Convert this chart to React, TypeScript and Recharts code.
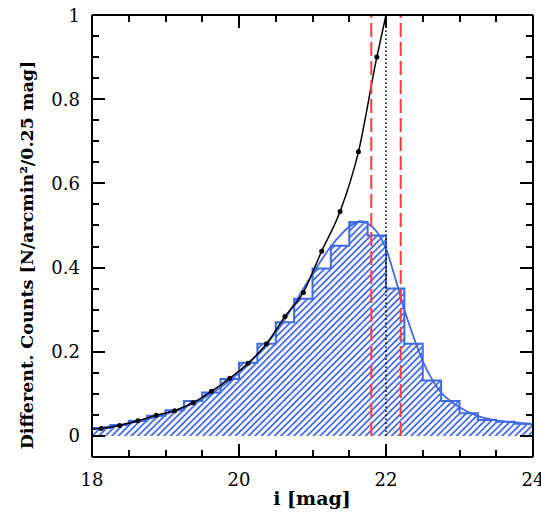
import { ComposedChart, Area, Line, XAxis, YAxis, ReferenceLine } from 'recharts';

// histogram: differential counts per 0.25 mag bin (bin left edges)
const binLeft = [18, 18.25, 18.5, 18.75, 19, 19.25, 19.5, 19.75, 20, 20.25, 20.5, 20.75,
  21, 21.25, 21.5, 21.75, 22, 22.25, 22.5, 22.75, 23, 23.25, 23.5, 23.75];
const binCounts = [0.019, 0.026, 0.036, 0.048, 0.061, 0.083, 0.103, 0.135, 0.174, 0.219, 0.27, 0.326,
  0.398, 0.452, 0.508, 0.476, 0.35, 0.219, 0.132, 0.083, 0.054, 0.038, 0.034, 0.029];
const histEnd = 24;

// smooth curve through the observed counts
const obsMag = [18, 18.5, 19, 19.5, 20, 20.5, 21, 21.25, 21.5, 21.65, 21.75, 21.875, 22, 22.125,
  22.25, 22.375, 22.5, 22.625, 22.75, 22.875, 23, 23.25, 23.5, 23.75, 24];
const obsCurve = [0.017, 0.03, 0.052, 0.088, 0.15, 0.245, 0.385, 0.45, 0.497, 0.51, 0.505, 0.485, 0.445, 0.375,
  0.3, 0.235, 0.178, 0.135, 0.103, 0.083, 0.068, 0.047, 0.037, 0.032, 0.028];

// power-law extrapolation (dots at bin centres, ends without dots)
const fitMag = [18, 18.125, 18.375, 18.625, 18.875, 19.125, 19.375, 19.625, 19.875, 20.125, 20.375,
  20.625, 20.875, 21.125, 21.375, 21.625, 21.875, 22];
const fitCounts = [0.016, 0.018, 0.025, 0.036, 0.049, 0.06, 0.079, 0.106, 0.137, 0.173, 0.219,
  0.284, 0.341, 0.439, 0.533, 0.675, 0.9, 1.0];

const limitLines = [21.8, 22.2];
const centreLine = 22;

const X_DOMAIN = [18, 24];
const Y_DOMAIN = [-0.05, 1];
const xTicks = [18, 18.5, 19, 19.5, 20, 20.5, 21, 21.5, 22, 22.5, 23, 23.5, 24];
const yTicks = [0, 0.05, 0.1, 0.15, 0.2, 0.25, 0.3, 0.35, 0.4, 0.45, 0.5, 0.55, 0.6, 0.65, 0.7, 0.75,
  0.8, 0.85, 0.9, 0.95, 1];

const histData = [...binLeft.map((x, i) => ({ x, y: binCounts[i] })), { x: histEnd, y: binCounts[binCounts.length - 1] }];
const curveData = obsMag.map((x, i) => ({ x, y: obsCurve[i] }));
const fitData = fitMag.map((x, i) => ({ x, y: fitCounts[i] }));

const FONT = '"DejaVu Serif", serif';
const BLUE = '#4169e1';
const RED = '#ff3b3b';

const W = 541;
const H = 513;
const MARGIN = { top: 14, right: 7, bottom: 0, left: 0 };
const Y_AXIS_W = 92;
const X_AXIS_H = 56;
const PLOT_L = MARGIN.left + Y_AXIS_W;
const PLOT_T = MARGIN.top + 1;
const PLOT_W = W - MARGIN.left - MARGIN.right - Y_AXIS_W - 1;
const PLOT_H = H - MARGIN.top - MARGIN.bottom - X_AXIS_H - 1;

const isMajorX = (v: number) => Math.abs(v / 2 - Math.round(v / 2)) < 1e-6;
const isMajorY = (v: number) => Math.abs(v / 0.2 - Math.round(v / 0.2)) < 1e-6;

function BottomLabel(props: any) {
  const v = props.payload.value;
  if (!isMajorX(v)) return <g />;
  return (
    <text x={Number(props.x)} y={Number(props.y) + 29} textAnchor="middle" fontFamily={FONT} fontSize={18} fill="#000">
      {v}
    </text>
  );
}

function LeftLabel(props: any) {
  const v = props.payload.value;
  if (!isMajorY(v)) return <g />;
  return (
    <text x={Number(props.x) - 12} y={Number(props.y) + 6.5} textAnchor="end" fontFamily={FONT} fontSize={18} fill="#000">
      {v}
    </text>
  );
}

// inward ticks on all four sides of the frame
function FrameTicks() {
  const sx = (v: number) => PLOT_L + ((v - X_DOMAIN[0]) / (X_DOMAIN[1] - X_DOMAIN[0])) * PLOT_W;
  const sy = (v: number) => PLOT_T + ((Y_DOMAIN[1] - v) / (Y_DOMAIN[1] - Y_DOMAIN[0])) * PLOT_H;
  const bottom = PLOT_T + PLOT_H;
  const right = PLOT_L + PLOT_W;
  return (
    <svg width={W} height={H} style={{ position: 'absolute', left: 0, top: 0, zIndex: 2, pointerEvents: 'none' }}>
      <g stroke="#000" strokeWidth={2}>
        {xTicks.map((v) => {
          const len = isMajorX(v) ? 13 : 7;
          const px = Math.round(sx(v));
          return (
            <g key={`x${v}`}>
              <line x1={px} x2={px} y1={bottom} y2={bottom - len} />
              <line x1={px} x2={px} y1={PLOT_T} y2={PLOT_T + len} />
            </g>
          );
        })}
        {yTicks.map((v) => {
          const len = isMajorY(v) ? 13 : 7;
          const py = Math.round(sy(v));
          return (
            <g key={`y${v}`}>
              <line x1={PLOT_L} x2={PLOT_L + len} y1={py} y2={py} />
              <line x1={right} x2={right - len} y1={py} y2={py} />
            </g>
          );
        })}
      </g>
    </svg>
  );
}

function FitDot({ cx, cy, index }: any) {
  if (index === 0 || index === fitData.length - 1) return <g key={index} />;
  return <circle key={index} cx={cx} cy={cy} r={2.5} fill="#000" />;
}

export default function App() {
  return (
    <div style={{ position: 'absolute', left: 0, top: 0, width: W, height: H, background: '#fff' }}>
      <ComposedChart width={W} height={H} margin={MARGIN}>
        <defs>
          <pattern id="hatch" patternUnits="userSpaceOnUse" width={4.6} height={4.6} patternTransform="rotate(45)">
            <line x1={1} y1={0} x2={1} y2={4.6} stroke={BLUE} strokeWidth={1.8} />
          </pattern>
        </defs>
        <XAxis xAxisId="main" dataKey="x" type="number" domain={X_DOMAIN} allowDataOverflow
          ticks={xTicks} interval={0} height={X_AXIS_H} tickSize={0} tickMargin={0} tickLine={false}
          axisLine={{ stroke: '#000', strokeWidth: 2 }} tick={(p: any) => <BottomLabel {...p} />} />
        <XAxis xAxisId="top" orientation="top" dataKey="x" type="number" domain={X_DOMAIN} allowDataOverflow
          height={1} tickLine={false} tick={false} axisLine={{ stroke: '#000', strokeWidth: 2 }} />
        <YAxis yAxisId="main" type="number" domain={Y_DOMAIN} allowDataOverflow
          ticks={yTicks} interval={0} width={Y_AXIS_W} tickSize={0} tickMargin={0} tickLine={false}
          axisLine={{ stroke: '#000', strokeWidth: 2 }} tick={(p: any) => <LeftLabel {...p} />} />
        <YAxis yAxisId="right" orientation="right" type="number" domain={Y_DOMAIN} allowDataOverflow
          width={1} tickLine={false} tick={false} axisLine={{ stroke: '#000', strokeWidth: 2 }} />

        <Area xAxisId="main" yAxisId="main" data={histData} dataKey="y" type="stepAfter"
          stroke={BLUE} strokeWidth={2} fill="url(#hatch)" fillOpacity={1} isAnimationActive={false} />
        <Line xAxisId="main" yAxisId="main" data={curveData} dataKey="y" type="monotone"
          stroke={BLUE} strokeWidth={1.8} dot={false} isAnimationActive={false} />
        <Line xAxisId="main" yAxisId="main" data={fitData} dataKey="y" type="monotone"
          stroke="#000" strokeWidth={1.5} dot={<FitDot />} isAnimationActive={false} />
        {/* invisible copy so the mirrored frame axes get drawn */}
        <Line xAxisId="top" yAxisId="right" data={fitData} dataKey="y" stroke="none" dot={false}
          activeDot={false} isAnimationActive={false} />

        {limitLines.map((m) => (
          <ReferenceLine key={m} xAxisId="main" yAxisId="main" segment={[{ x: m, y: 0 }, { x: m, y: 1 }]}
            stroke={RED} strokeWidth={2} strokeDasharray="14 5" />
        ))}
        <ReferenceLine xAxisId="main" yAxisId="main" segment={[{ x: centreLine, y: 0 }, { x: centreLine, y: 1 }]}
          stroke="#000" strokeWidth={1.5} strokeDasharray="1.5 2.5" />

        <text x={27} y={255} transform="rotate(-90 27 255)" textAnchor="middle" dominantBaseline="central"
          fontFamily={FONT} fontSize={17.5} fontWeight="bold" fill="#000">
          Different. Counts [N/arcmin²/0.25 mag]
        </text>
        <text x={312} y={505} textAnchor="middle" fontFamily={FONT} fontSize={19} fontWeight="bold" fill="#000">
          i [mag]
        </text>
      </ComposedChart>
      <FrameTicks />
    </div>
  );
}
